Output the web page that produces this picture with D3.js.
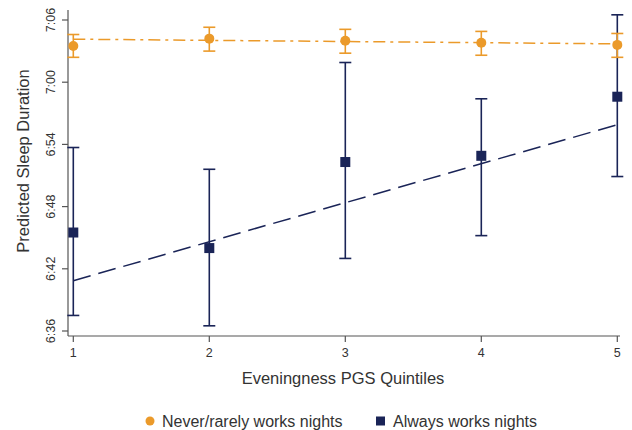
<!DOCTYPE html>
<html>
<head>
<meta charset="utf-8">
<script src="https://cdn.jsdelivr.net/npm/d3@7"></script>
<style>
  body { margin: 0; background: #fff; }
  text { font-family: "Liberation Sans", Arial, sans-serif; }
</style>
</head>
<body>
<script>
// quintiles
var quintiles = [1, 2, 3, 4, 5];

// predicted sleep, minutes after midnight
var neverMean = [423.5, 424.2, 424.0, 423.8, 423.6];
var neverLow = [422.4, 423.0, 422.8, 422.6, 422.4];
var neverHigh = [424.6, 425.3, 425.1, 424.9, 424.7];
var neverFit = [424.15, 423.7];

var alwaysMean = [405.5, 404.0, 412.3, 412.9, 418.6];
var alwaysLow = [397.5, 396.5, 403.0, 405.2, 410.9];
var alwaysHigh = [413.7, 411.6, 421.9, 418.4, 426.5];
var alwaysFit = [400.85, 415.9];

var yTicks = [396, 402, 408, 414, 420, 426];

var width = 632;
var height = 430;
var orange = '#eb9a2a';
var navy = '#1a2457';

var svg = d3.select('body').append('svg')
  .attr('width', width)
  .attr('height', height);

var x = d3.scaleLinear().domain([1, 5]).range([73.3, 617.3]);
var y = d3.scaleLinear().domain([396, 426]).range([331, 20]);

function fmt(m) {
  var h = Math.floor(m / 60);
  var mm = m % 60;
  return h + ':' + (mm < 10 ? '0' : '') + mm;
}

// y axis
var yAxis = svg.append('g').attr('transform', 'translate(68,0)');
yAxis.append('line').attr('x1', 0).attr('x2', 0).attr('y1', 10).attr('y2', 336)
  .attr('stroke', '#555').attr('stroke-width', 1.2);
yAxis.selectAll('line.tick').data(yTicks).enter().append('line')
  .attr('class', 'tick')
  .attr('x1', -6).attr('x2', 0)
  .attr('y1', function(d) { return y(d); })
  .attr('y2', function(d) { return y(d); })
  .attr('stroke', '#555').attr('stroke-width', 1.2);
yAxis.selectAll('text').data(yTicks).enter().append('text')
  .attr('transform', function(d) { return 'translate(-13,' + y(d) + ') rotate(-90)'; })
  .attr('text-anchor', 'middle')
  .attr('font-size', 12.5)
  .attr('fill', '#333')
  .text(fmt);

// x axis
var xAxis = svg.append('g').attr('transform', 'translate(0,336)');
xAxis.append('line').attr('x1', 68).attr('x2', 620).attr('y1', 0).attr('y2', 0)
  .attr('stroke', '#555').attr('stroke-width', 1.2);
xAxis.selectAll('line.tick').data(quintiles).enter().append('line')
  .attr('class', 'tick')
  .attr('x1', function(d) { return x(d); })
  .attr('x2', function(d) { return x(d); })
  .attr('y1', 0).attr('y2', 6)
  .attr('stroke', '#555').attr('stroke-width', 1.2);
xAxis.selectAll('text').data(quintiles).enter().append('text')
  .attr('x', function(d) { return x(d); })
  .attr('y', 21)
  .attr('text-anchor', 'middle')
  .attr('font-size', 12.5)
  .attr('fill', '#333')
  .text(function(d) { return d; });

// axis titles
svg.append('text')
  .attr('transform', 'translate(29,161) rotate(-90)')
  .attr('text-anchor', 'middle')
  .attr('font-size', 16.5)
  .attr('fill', '#333')
  .text('Predicted Sleep Duration');
svg.append('text')
  .attr('x', 343).attr('y', 384)
  .attr('text-anchor', 'middle')
  .attr('font-size', 16.5)
  .attr('fill', '#333')
  .text('Eveningness PGS Quintiles');

// fitted lines
svg.append('line')
  .attr('x1', x(1)).attr('x2', x(5))
  .attr('y1', y(alwaysFit[0])).attr('y2', y(alwaysFit[1]))
  .attr('stroke', navy).attr('stroke-width', 1.5)
  .attr('stroke-dasharray', '18,8');
svg.append('line')
  .attr('x1', x(1)).attr('x2', x(5))
  .attr('y1', y(neverFit[0])).attr('y2', y(neverFit[1]))
  .attr('stroke', orange).attr('stroke-width', 1.5)
  .attr('stroke-dasharray', '12,5,3,5');

function errorBars(lo, hi, color) {
  var g = svg.append('g').attr('stroke', color).attr('stroke-width', 1.6);
  quintiles.forEach(function(q, i) {
    g.append('line').attr('x1', x(q)).attr('x2', x(q))
      .attr('y1', y(lo[i])).attr('y2', y(hi[i]));
    [lo[i], hi[i]].forEach(function(v) {
      g.append('line').attr('x1', x(q) - 6).attr('x2', x(q) + 6)
        .attr('y1', y(v)).attr('y2', y(v));
    });
  });
}

errorBars(alwaysLow, alwaysHigh, navy);
errorBars(neverLow, neverHigh, orange);

svg.selectAll('rect.pt').data(alwaysMean).enter().append('rect')
  .attr('class', 'pt')
  .attr('x', function(d, i) { return x(quintiles[i]) - 5; })
  .attr('y', function(d) { return y(d) - 5; })
  .attr('width', 10).attr('height', 10)
  .attr('fill', navy);

svg.selectAll('circle.pt').data(neverMean).enter().append('circle')
  .attr('class', 'pt')
  .attr('cx', function(d, i) { return x(quintiles[i]); })
  .attr('cy', function(d) { return y(d); })
  .attr('r', 5)
  .attr('fill', orange);

// legend
var legend = svg.append('g').attr('font-size', 16).attr('fill', '#333');
legend.append('circle').attr('cx', 150).attr('cy', 421).attr('r', 4.5).attr('fill', orange);
legend.append('text').attr('x', 162).attr('y', 427).text('Never/rarely works nights');
legend.append('rect').attr('x', 376).attr('y', 416.5).attr('width', 9).attr('height', 9).attr('fill', navy);
legend.append('text').attr('x', 393).attr('y', 427).text('Always works nights');
</script>
</body>
</html>
